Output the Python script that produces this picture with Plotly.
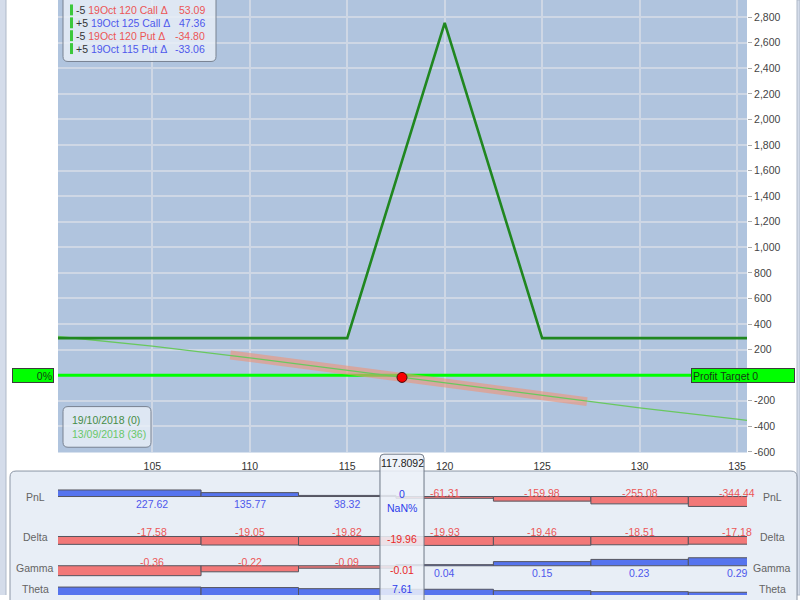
import numpy as np
import plotly.graph_objects as go

# ---------------- data ----------------
X_RANGE = [100.16, 135.51]
Y_RANGE = [-604, 2934]
CURSOR = 117.8092
CURSOR_LABEL = "117.8092"
CURSOR_DELTA = -19.96
PROFIT_TARGET = 0

EXP_X = [100, 115, 120, 125, 136]
EXP_PNL = [290, 290, 2755, 290, 290]

T0_X = [100, 105, 110, 115, 120, 125, 130, 135, 136]
T0_PNL = [305, 227.62, 135.77, 38.32, -61.31, -159.98, -255.08, -344.44, -362]

BAND_X = [109.0, 127.3]

X_TICKS = [105, 110, 115, 120, 125, 130, 135]
Y_TICKS = list(range(-600, 2801, 200))
Y_TICK_TEXT = [f"{v:,}" if v != 0 else "" for v in Y_TICKS]

TABLE_X = [105, 110, 115, 120, 125, 130, 135]
PNL_VALUES = [227.62, 135.77, 38.32, -61.31, -159.98, -255.08, -344.44]
DELTA_VALUES = [-17.58, -19.05, -19.82, -19.93, -19.46, -18.51, -17.18]
GAMMA_VALUES = [-0.36, -0.22, -0.09, 0.04, 0.15, 0.23, 0.29]
THETA_VALUES = [9.9, 9.4, 8.3, 7.7, 6.3, 5.3, 4.7]
ROW_NAMES = ["PnL", "Delta", "Gamma", "Theta"]
CURSOR_PNL_TEXT = ["0", "NaN%"]
CURSOR_DELTA_TEXT = "-19.96"
CURSOR_GAMMA_TEXT = "-0.01"
CURSOR_THETA_TEXT = "7.61"

LEG_QTY = ["-5", "+5", "-5", "+5"]
LEG_DESC = ["19Oct 120 Call Δ", "19Oct 125 Call Δ", "19Oct 120 Put Δ", "19Oct 115 Put Δ"]
LEG_DELTA = ["53.09", "47.36", "-34.80", "-33.06"]

DATES = ["19/10/2018 (0)", "13/09/2018 (36)"]
TARGET_LEFT_TEXT = "0%"
TARGET_RIGHT_TEXT = "Profit Target 0"

# ---------------- style ----------------
FONT = "Liberation Sans, Arial, sans-serif"
W, H = 800, 600
RED_T = "rgb(236,86,86)"
BLUE_T = "rgb(78,88,236)"
BAR_RED = "rgb(242,120,120)"
BAR_BLUE = "rgb(86,116,238)"
BAR_EDGE = "rgb(85,85,95)"
ROW_LABEL = "rgb(100,100,100)"
PLOT_BOTTOM = 456.2


def PX(x):
    return x / W


def PY(y):
    return 1 - y / H


def rrect(x0, y0, x1, y1, r, fx=PX, fy=PY, rx=None):
    rx = r if rx is None else rx
    p = [
        f"M {fx(x0 + rx)},{fy(y0)}",
        f"L {fx(x1 - rx)},{fy(y0)}",
        f"Q {fx(x1)},{fy(y0)} {fx(x1)},{fy(y0 + r)}",
        f"L {fx(x1)},{fy(y1 - r)}",
        f"Q {fx(x1)},{fy(y1)} {fx(x1 - rx)},{fy(y1)}",
        f"L {fx(x0 + rx)},{fy(y1)}",
        f"Q {fx(x0)},{fy(y1)} {fx(x0)},{fy(y1 - r)}",
        f"L {fx(x0)},{fy(y0 + r)}",
        f"Q {fx(x0)},{fy(y0)} {fx(x0 + rx)},{fy(y0)}",
        "Z",
    ]
    return " ".join(p)


def ann(**kw):
    d = dict(showarrow=False, yanchor="middle")
    d.update(kw)
    return d


fig = go.Figure()

# ---------------- main chart traces ----------------
fig.add_trace(go.Scatter(x=X_RANGE, y=[PROFIT_TARGET] * 2, mode="lines",
                         line=dict(color="#00ff00", width=3), hoverinfo="skip"))
dot_y = float(np.interp(CURSOR, T0_X, T0_PNL))
band_x = np.array(BAND_X)
band_y = dot_y + CURSOR_DELTA * (band_x - CURSOR)
fig.add_trace(go.Scatter(x=band_x, y=band_y, mode="lines",
                         line=dict(color="rgba(238,148,122,0.62)", width=9), hoverinfo="skip"))
fig.add_trace(go.Scatter(x=T0_X, y=T0_PNL, mode="lines",
                         line=dict(color="rgb(105,200,95)", width=1.3)))
fig.add_trace(go.Scatter(x=EXP_X, y=EXP_PNL, mode="lines",
                         line=dict(color="rgb(32,135,32)", width=2.6)))
fig.add_trace(go.Scatter(x=[CURSOR], y=[dot_y], mode="markers",
                         marker=dict(size=10, color="rgb(250,0,0)",
                                     line=dict(color="rgb(70,10,10)", width=1))))

# ---------------- table rows ----------------
mids = [(a + b) / 2 for a, b in zip(TABLE_X[:-1], TABLE_X[1:])]
lefts = [X_RANGE[0] - 1] + mids
rights = mids + [X_RANGE[1] + 1]
centers = [(l + r) / 2 for l, r in zip(lefts, rights)]
widths = [r - l for l, r in zip(lefts, rights)]

row_values = [PNL_VALUES, DELTA_VALUES, GAMMA_VALUES, THETA_VALUES]
row_base_px = [500.7, 541.0, 570.5, 602.0]
row_half_px = [10, 9, 10, 10]

annotations = []
layout_axes = {}
for i, (name, vals) in enumerate(zip(ROW_NAMES, row_values)):
    n = 3 + i
    base = row_base_px[i]
    half = row_half_px[i]
    m = max(abs(v) for v in vals)
    top_px = base - half - 1.5
    bot_px = min(base + half + 1.5, H)
    rng = [(base - bot_px) * m / half, (base - top_px) * m / half]
    layout_axes[f"yaxis{n}"] = dict(domain=[PY(bot_px), PY(top_px)], range=rng,
                                    anchor="x2", visible=False, fixedrange=True)
    fig.add_trace(go.Bar(x=centers, y=vals, width=widths, xaxis="x2", yaxis=f"y{n}",
                         marker=dict(color=[BAR_BLUE if v >= 0 else BAR_RED for v in vals],
                                     line=dict(color=BAR_EDGE, width=1))))
    if name != "Theta":
        for xv, v in zip(TABLE_X, vals):
            annotations.append(ann(x=xv, y=0, xref="x2", yref=f"y{n}",
                                   text=f"{v:.2f}", yshift=(4 if v < 0 else -7),
                                   font=dict(family=FONT, size=10.5,
                                             color=RED_T if v < 0 else BLUE_T)))

row_label_y = [501.5, 541.7, 572.3, 593.5]
for name, yl in zip(ROW_NAMES, row_label_y):
    for xl in (35, 772):
        annotations.append(ann(x=PX(xl), y=PY(yl), xref="paper", yref="paper",
                               text=name, xanchor="center",
                               font=dict(family=FONT, size=10.5, color=ROW_LABEL)))

# cursor column values
cursor_texts = [
    (CURSOR_PNL_TEXT[0], 498.3, "rgb(45,60,235)"),
    (CURSOR_PNL_TEXT[1], 512.3, "rgb(45,60,235)"),
    (CURSOR_DELTA_TEXT, 543.3, "rgb(232,40,40)"),
    (CURSOR_GAMMA_TEXT, 574.5, "rgb(232,40,40)"),
    (CURSOR_THETA_TEXT, 593.5, "rgb(45,60,235)"),
]
for t, yv, c in cursor_texts:
    annotations.append(ann(x=CURSOR, y=PY(yv), xref="x2", yref="paper",
                           text=t, font=dict(family=FONT, size=10.5, color=c)))
annotations.append(ann(x=CURSOR, y=PY(466.5), xref="x2", yref="paper",
                       text=CURSOR_LABEL, font=dict(family=FONT, size=10.5, color="#222")))

# profit target labels
annotations.append(ann(x=PX(54), y=PROFIT_TARGET, xref="paper", yref="y",
                       text=TARGET_LEFT_TEXT, xanchor="right", align="right", width=38, height=11,
                       bgcolor="#00ff00", bordercolor="rgb(60,60,60)", borderwidth=1, borderpad=1,
                       font=dict(family=FONT, size=10.5, color="rgb(20,60,20)")))
annotations.append(ann(x=PX(691), y=PROFIT_TARGET, xref="paper", yref="y",
                       text=TARGET_RIGHT_TEXT, xanchor="left", align="left", width=100, height=11,
                       bgcolor="#00ff00", bordercolor="rgb(60,60,60)", borderwidth=1, borderpad=1,
                       font=dict(family=FONT, size=10.5, color="rgb(20,60,20)")))

# legend lines
leg_y = [10, 23, 36, 49]
for q, d, dv, yv in zip(LEG_QTY, LEG_DESC, LEG_DELTA, leg_y):
    c = RED_T if q.startswith("-") else BLUE_T
    annotations.append(ann(x=PX(74), y=PY(yv), xref="paper", yref="paper",
                           xanchor="left", text=f"{q} <span style='color:{c}'>{d}</span>",
                           font=dict(family=FONT, size=10.5, color="#333")))
    annotations.append(ann(x=PX(207), y=PY(yv), xref="paper", yref="paper",
                           xanchor="right", text=dv,
                           font=dict(family=FONT, size=10.5, color=c)))

date_y = [424, 437.7]
date_c = ["rgb(70,140,70)", "rgb(105,200,105)"]
for t, yv, c in zip(DATES, date_y, date_c):
    annotations.append(ann(x=PX(70), y=PY(yv), xref="paper", yref="paper",
                           xanchor="left", text=t, font=dict(family=FONT, size=10.5, color=c)))

# ---------------- decorative shapes ----------------
shapes = [
    dict(type="rect", xref="paper", yref="paper", x0=PX(58), x1=PX(747), y0=PY(PLOT_BOTTOM), y1=1,
         fillcolor="rgb(176,196,222)", line=dict(width=0), layer="below"),
    dict(type="rect", xref="paper", yref="paper", x0=0, x1=PX(6), y0=0, y1=1,
         fillcolor="rgb(212,220,234)", line=dict(width=0), layer="below"),
    dict(type="line", xref="paper", yref="paper", x0=PX(6), x1=PX(6), y0=0, y1=1,
         line=dict(color="rgb(175,185,200)", width=1), layer="below"),
    dict(type="rect", xref="paper", yref="paper", x0=PX(797), x1=1, y0=0, y1=1,
         fillcolor="rgb(212,220,234)", line=dict(color="rgb(175,185,200)", width=1), layer="below"),
    dict(type="path", xref="paper", yref="paper", path=rrect(10, 475, 797, 640, 6),
         fillcolor="rgb(232,238,246)", line=dict(color="rgb(140,150,165)", width=1), layer="below"),
    dict(type="path", xref="paper", yref="paper", path=rrect(63, -10, 216, 62, 5),
         fillcolor="rgba(234,240,248,0.8)", line=dict(color="rgb(120,130,145)", width=1), layer="above"),
    dict(type="path", xref="paper", yref="paper", path=rrect(63, 410, 151, 451, 5),
         fillcolor="rgba(234,240,248,0.8)", line=dict(color="rgb(120,130,145)", width=1), layer="above"),
]
for yv in leg_y:
    shapes.append(dict(type="rect", xref="paper", yref="paper", x0=PX(70), x1=PX(73),
                       y0=PY(yv + 5.5), y1=PY(yv - 5.5), fillcolor="rgb(60,200,60)",
                       line=dict(width=0), layer="above"))
# cursor column (data x, paper y)
hw = 1.13
col_path = rrect(CURSOR - hw, 458, CURSOR + hw, 640, 4,
                 fx=lambda v: v, fy=PY, rx=0.2)
shapes.append(dict(type="path", xref="x2", yref="paper", path=col_path,
                   fillcolor="rgba(236,241,248,0.86)", line=dict(color="rgb(110,120,135)", width=1),
                   layer="above"))

# ---------------- layout ----------------
fig.update_layout(
    width=W, height=H, autosize=False,
    margin=dict(l=0, r=0, t=0, b=0),
    paper_bgcolor="white", plot_bgcolor="rgba(0,0,0,0)",
    showlegend=False, barmode="overlay",
    font=dict(family=FONT, size=10.5, color="#333"),
    xaxis=dict(domain=[PX(58), PX(747)], range=X_RANGE, anchor="y",
               tickvals=X_TICKS, ticks="outside", ticklen=4, tickcolor="rgba(0,0,0,0)",
               showgrid=True, gridcolor="rgb(206,215,229)", gridwidth=1.5,
               zeroline=False, showline=False, fixedrange=True,
               tickfont=dict(family=FONT, size=10.5, color="#333")),
    yaxis=dict(domain=[PY(PLOT_BOTTOM), 1], range=Y_RANGE, anchor="x", side="right",
               tickvals=Y_TICKS, ticktext=Y_TICK_TEXT, ticks="outside", ticklen=4,
               tickcolor="rgb(170,170,170)",
               showgrid=True, gridcolor="rgb(206,215,229)", gridwidth=1.5,
               zeroline=False, showline=False, fixedrange=True,
               tickfont=dict(family=FONT, size=10.5, color="#444")),
    xaxis2=dict(domain=[PX(58), PX(747)], matches="x", anchor="y3", visible=False,
                showgrid=False, fixedrange=True),
    annotations=annotations,
    shapes=shapes,
    **layout_axes,
)

fig.write_html("out.html", config={"displayModeBar": False},
               post_script="document.body.style.margin='0';document.body.style.overflow='hidden';")
